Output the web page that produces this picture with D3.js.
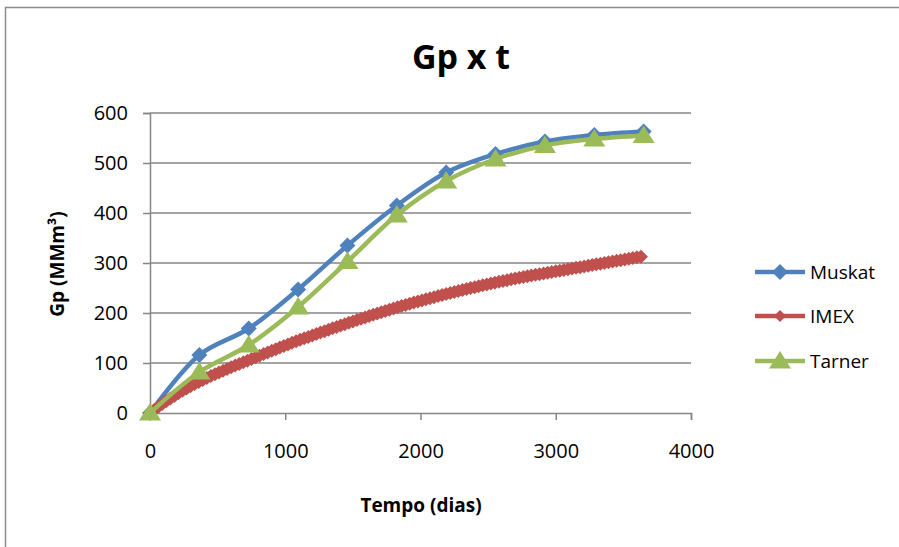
<!DOCTYPE html>
<html lang="pt">

<head>
    <meta charset="UTF-8">
    <script type="text/javascript" src="https://cdn.jsdelivr.net/npm/d3@7"></script>
    <title>Gp x t</title>
    <style>
        body { margin: 0; background: #fff; }
        text { font-family: "Open Sans", Lato, sans-serif; fill: #000; }
    </style>
</head>

<body>
    <script>
        // Series (days, Gp in MMm3)
        var muskatDays = [0, 365, 730, 1095, 1460, 1825, 2190, 2555, 2920, 3285, 3650];
        var muskatGp = [0, 116, 169, 247, 335, 415, 481, 518, 543, 556, 563];

        var tarnerDays = [0, 365, 730, 1095, 1460, 1825, 2190, 2555, 2920, 3285, 3650];
        var tarnerGp = [0, 82, 136, 212, 303, 396, 464, 508, 535, 548, 555];

        var imexDays = [0, 30, 60, 90, 120, 150, 180, 210, 240, 270, 300, 330, 360, 390, 420, 450, 480, 510,
            540, 570, 600, 630, 660, 690, 720, 750, 780, 810, 840, 870, 900, 930, 960, 990, 1020, 1050,
            1080, 1110, 1140, 1170, 1200, 1230, 1260, 1290, 1320, 1350, 1380, 1410, 1440, 1470, 1500,
            1530, 1560, 1590, 1620, 1650, 1680, 1710, 1740, 1770, 1800, 1830, 1860, 1890, 1920, 1950,
            1980, 2010, 2040, 2070, 2100, 2130, 2160, 2190, 2220, 2250, 2280, 2310, 2340, 2370, 2400,
            2430, 2460, 2490, 2520, 2550, 2580, 2610, 2640, 2670, 2700, 2730, 2760, 2790, 2820, 2850,
            2880, 2910, 2940, 2970, 3000, 3030, 3060, 3090, 3120, 3150, 3180, 3210, 3240, 3270, 3300,
            3330, 3360, 3390, 3420, 3450, 3480, 3510, 3540, 3570, 3600, 3630];
        var imexGp = [0, 6, 12, 18, 23.5, 29, 34, 39.5, 44.5, 49, 53.5, 58, 62, 66, 70, 74, 77.5, 81,
            84.5, 88, 91.5, 95, 98, 101.5, 104.5, 108, 111.5, 114.5, 118, 121, 124.5, 127.5, 131, 134, 137, 140.5,
            143.5, 146.5, 149.5, 152, 155, 158, 161, 163.5, 166.5, 169.5, 172, 175, 177.5, 180.5, 183,
            186, 188.5, 191, 194, 196.5, 199, 201.5, 204, 206.5, 209, 211.5, 214, 216, 218.5, 221,
            223, 225.2, 227.4, 229.6, 231.7, 233.8, 235.9, 238, 240, 242, 244, 246, 247.9, 249.8, 251.7,
            253.6, 255.4, 257.2, 259, 260.7, 262.4, 264.1, 265.7, 267.3, 268.9, 270.4, 271.9, 273.4, 274.9, 276.3,
            277.7, 279.1, 280.5, 281.9, 283.3, 284.7, 286.1, 287.5, 288.9, 290.3, 291.7, 293.1, 294.5, 295.9, 297.3,
            298.7, 300.1, 301.5, 302.9, 304.3, 305.7, 307.1, 308.5, 309.9, 311.3, 312.7];

        var xTicks = [0, 1000, 2000, 3000, 4000];
        var yTicks = [0, 100, 200, 300, 400, 500, 600];
        var seriesNames = ["Muskat", "IMEX", "Tarner"];
        var seriesColors = ["#4F81BD", "#C0504D", "#9BBB59"];

        var W = 899, H = 547;
        var plot = { left: 150, right: 691, top: 113, bottom: 413 };

        var svg = d3.select("body").append("svg")
            .attr("width", W)
            .attr("height", H);

        // chart area border
        svg.append("rect")
            .attr("x", 5.5).attr("y", 7.5)
            .attr("width", W).attr("height", H)
            .attr("fill", "#fff")
            .attr("stroke", "#8c8c8c")
            .attr("stroke-width", 1.5);

        var x = d3.scaleLinear().domain([0, 4000]).range([plot.left, plot.right]);
        var y = d3.scaleLinear().domain([0, 600]).range([plot.bottom, plot.top]);

        // Gridlines
        svg.append("g")
            .selectAll("line")
            .data(yTicks.filter(function (d) { return d > 0; }))
            .enter().append("line")
            .attr("x1", plot.left).attr("x2", plot.right)
            .attr("y1", function (d) { return y(d); })
            .attr("y2", function (d) { return y(d); })
            .attr("stroke", "#868686")
            .attr("stroke-width", 1.5);

        // Y axis
        var yAxis = svg.append("g")
            .attr("transform", "translate(" + plot.left + ",0)")
            .call(d3.axisLeft(y).tickValues(yTicks).tickSize(7).tickPadding(15));

        // X axis
        var xAxis = svg.append("g")
            .attr("transform", "translate(0," + plot.bottom + ")")
            .call(d3.axisBottom(x).tickValues(xTicks).tickFormat(d3.format("d")).tickSize(7).tickPadding(24));

        [xAxis, yAxis].forEach(function (a) {
            a.select(".domain").attr("stroke", "#868686").attr("stroke-width", 1.5);
            a.selectAll(".tick line").attr("stroke", "#868686").attr("stroke-width", 1.5);
            a.selectAll(".tick text").style("font-size", "20px").attr("fill", "#000");
        });

        // Titles
        svg.append("text")
            .attr("x", 461).attr("y", 69)
            .attr("text-anchor", "middle")
            .style("font-size", "34px").style("font-weight", "bold")
            .text("Gp x t");

        svg.append("text")
            .attr("x", 421).attr("y", 512)
            .attr("text-anchor", "middle")
            .style("font-size", "19px").style("font-weight", "bold")
            .text("Tempo (dias)");

        svg.append("text")
            .attr("transform", "translate(64,264) rotate(-90)")
            .attr("text-anchor", "middle")
            .style("font-size", "19px").style("font-weight", "bold")
            .text("Gp (MMm³)");

        // marker shapes
        function diamond(r) {
            return "M0," + (-r) + "L" + r + ",0L0," + r + "L" + (-r) + ",0Z";
        }
        function triangle(r) {
            return "M0," + (-r) + "L" + (r * 1.1) + "," + (r * 0.75) + "L" + (-r * 1.1) + "," + (r * 0.75) + "Z";
        }

        var line = d3.line()
            .x(function (d) { return x(d[0]); })
            .y(function (d) { return y(d[1]); })
            .curve(d3.curveCatmullRom.alpha(0.5));

        var series = [
            { name: seriesNames[0], color: seriesColors[0], days: muskatDays, vals: muskatGp, shape: diamond(8) },
            { name: seriesNames[1], color: seriesColors[1], days: imexDays, vals: imexGp, shape: diamond(7) },
            { name: seriesNames[2], color: seriesColors[2], days: tarnerDays, vals: tarnerGp, shape: triangle(10) }
        ];

        series.forEach(function (s) {
            var pts = s.days.map(function (d, i) { return [d, s.vals[i]]; });
            var g = svg.append("g");
            g.append("path")
                .datum(pts)
                .attr("fill", "none")
                .attr("stroke", s.color)
                .attr("stroke-width", 4.5)
                .attr("d", line);
            g.selectAll("path.m")
                .data(pts)
                .enter().append("path")
                .attr("class", "m")
                .attr("transform", function (d) { return "translate(" + x(d[0]) + "," + y(d[1]) + ")"; })
                .attr("d", s.shape)
                .attr("fill", s.color);
        });

        // Legend
        var legendY = [272, 316, 361];
        var legend = svg.append("g");
        series.forEach(function (s, i) {
            var g = legend.append("g").attr("transform", "translate(0," + legendY[i] + ")");
            g.append("line")
                .attr("x1", 755).attr("x2", 805)
                .attr("stroke", s.color).attr("stroke-width", 4.5);
            g.append("path")
                .attr("transform", "translate(780,0)")
                .attr("d", i === 1 ? diamond(6) : s.shape)
                .attr("fill", s.color);
            g.append("text")
                .attr("x", 810).attr("y", 7)
                .style("font-size", "19px")
                .text(s.name);
        });
    </script>
</body>

</html>
